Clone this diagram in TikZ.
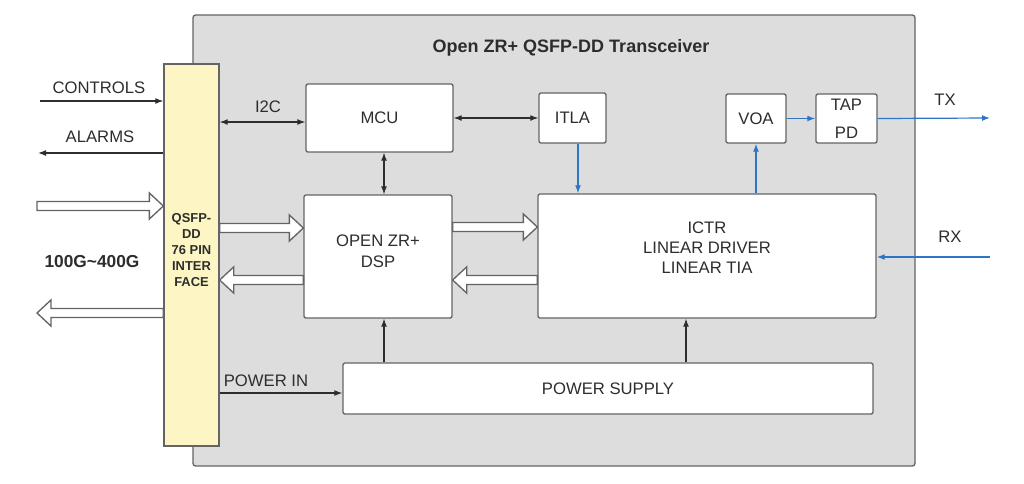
\documentclass[tikz,border=0pt]{standalone}
\usepackage{fontspec}
\setmainfont{Liberation Sans}
\usetikzlibrary{arrows.meta,calc}
\definecolor{panel}{RGB}{221,221,221}
\definecolor{edge}{RGB}{100,100,100}
\definecolor{pale}{RGB}{253,246,196}
\definecolor{blu}{RGB}{46,117,198}
\definecolor{ink}{RGB}{45,45,45}
\newcommand{\hollowarrow}[2]{%
  \draw[hollow] let \p1=(#1), \p2=(#2), \n1={ifthenelse(\x2>\x1,1,-1)} in
    (\x1,\y1+3.4pt) -- (\x2-\n1*10.5pt,\y1+3.4pt) -- (\x2-\n1*10.5pt,\y1+9.8pt) --
    (\x2,\y1) -- (\x2-\n1*10.5pt,\y1-9.8pt) -- (\x2-\n1*10.5pt,\y1-3.4pt) --
    (\x1,\y1-3.4pt) -- cycle;}
\begin{document}
\begin{tikzpicture}[x=0.75pt,y=-0.75pt,
  box/.style={draw=edge,fill=white,line width=1pt,rounded corners=1.5pt,inner sep=0pt,font=\fontsize{12.5}{14}\selectfont,text=ink},
  lbl/.style={font=\fontsize{12.5}{14}\selectfont,text=ink,inner sep=0pt},
  arr/.style={draw=ink,line width=0.8pt,-{Latex[length=6pt,width=4.4pt]}},
  darr/.style={draw=ink,line width=0.8pt,{Latex[length=6pt,width=4.4pt]}-{Latex[length=6pt,width=4.4pt]}},
  barr/.style={draw=blu,line width=0.9pt,-{Latex[length=6pt,width=4.4pt]}},
  hollow/.style={draw=edge,fill=white,line width=1pt,line join=miter}]
\useasboundingbox (0,0) rectangle (1024,483);
\fill[white] (0,0) rectangle (1024,483);
% panel
\node[draw=edge,fill=panel,line width=1pt,rounded corners=2pt,inner sep=0pt,
  minimum width=722*0.75pt,minimum height=451*0.75pt] (panel) at (554,240.5) {};
\node[font=\bfseries\fontsize{13.5}{16}\selectfont,text=ink,inner sep=0pt] (title) at (571,48) {Open ZR+ QSFP-DD Transceiver};
% interface
\node[draw=edge,fill=pale,line width=1pt,inner sep=0pt,
  minimum width=55*0.75pt,minimum height=382*0.75pt,
  label={[yshift=3.8pt,align=center,font=\bfseries\fontsize{9.7}{12}\selectfont,text=ink]center:QSFP-\\DD\\76 PIN\\INTER\\FACE}] (yel) at (191.5,255) {};
% blocks
\node[box,minimum width=147*0.75pt,minimum height=68*0.75pt] (mcu) at (379.5,118) {MCU};
\node[box,minimum width=67*0.75pt,minimum height=50*0.75pt] (itla) at (572.5,118) {ITLA};
\node[box,minimum width=60*0.75pt,minimum height=49*0.75pt] (voa) at (756,118.5) {VOA};
\node[box,minimum width=61*0.75pt,minimum height=49*0.75pt,align=center] (tap) at (846.5,118.5) {TAP\\[7pt]PD};
\node[box,minimum width=148*0.75pt,minimum height=123*0.75pt,
  label={[lbl,yshift=4pt,align=center,font=\fontsize{12.5}{16}\selectfont]center:OPEN ZR+\\DSP}] (dsp) at (378,256.5) {};
\node[box,minimum width=338*0.75pt,minimum height=124*0.75pt,
  label={[lbl,yshift=6.5pt,align=center,font=\fontsize{12.5}{15}\selectfont]center:ICTR\\LINEAR DRIVER\\LINEAR TIA}] (ictr) at (707,256) {};
\node[box,minimum width=530*0.75pt,minimum height=51*0.75pt] (ps) at (608,388.5) {POWER SUPPLY};
% labels
\node[lbl] (tcontrols) at (99,88) {CONTROLS};
\node[lbl] (talarms) at (100,137) {ALARMS};
\node[lbl] (ti2c) at (268,107) {I2C};
\node[lbl,font=\bfseries\fontsize{13}{15}\selectfont] (trate) at (92,262) {100G\textasciitilde400G};
\node[lbl] (tpower) at (266,381) {POWER IN};
\node[lbl] (ttx) at (945,100) {TX};
\node[lbl] (trx) at (950,237) {RX};
% helper coordinates
\coordinate (cs) at (40,101);
\coordinate (ae) at (38,153);
\coordinate (yi2c) at (0,122);
\coordinate (vx) at (384,0);
\coordinate (bx) at (578,0);
\coordinate (px2) at (686,0);
\coordinate (txe) at (990,118);
\coordinate (rxs) at (990,257);
\coordinate (ypin) at (0,393);
\coordinate (h1s) at (37,206);
\coordinate (h4e) at (37,313);
\coordinate (y228) at (0,228);
\coordinate (y227) at (0,227);
\coordinate (y280) at (0,280);
% thin connectors
\draw[arr] (cs) -- (yel.west |- cs);
\draw[arr] (yel.west |- ae) -- (ae);
\draw[darr] (yel.east |- yi2c) -- (mcu.west |- yi2c);
\draw[darr] (mcu.east) -- (itla.west);
\draw[darr] (mcu.south -| vx) -- (dsp.north -| vx);
\draw[barr] (itla.south -| bx) -- (ictr.north -| bx);
\draw[barr] (ictr.north -| voa.south) -- (voa.south);
\draw[barr] (voa.east) -- (tap.west);
\draw[barr] (tap.east) -- (txe);
\draw[barr] (rxs) -- (ictr.east |- rxs);
\draw[arr] (yel.east |- ypin) -- (ps.west |- ypin);
\draw[arr] (ps.north -| vx) -- (dsp.south -| vx);
\draw[arr] (ps.north -| px2) -- (ictr.south -| px2);
% hollow data arrows
\hollowarrow{h1s}{yel.west |- h1s}
\hollowarrow{yel.east |- y228}{dsp.west |- y228}
\hollowarrow{dsp.west |- y280}{yel.east |- y280}
\hollowarrow{yel.west |- h4e}{h4e}
\hollowarrow{dsp.east |- y227}{ictr.west |- y227}
\hollowarrow{ictr.west |- y280}{dsp.east |- y280}
\end{tikzpicture}
\end{document}
